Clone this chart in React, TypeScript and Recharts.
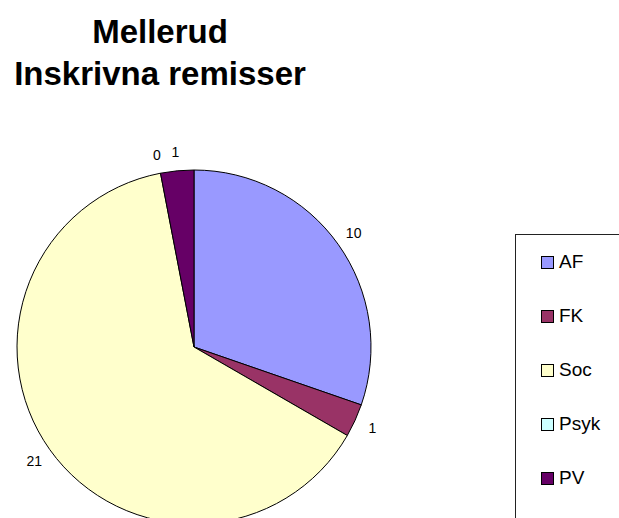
import React from "react";
import { PieChart, Pie, Cell, Legend } from "recharts";

const categories = ["AF", "FK", "Soc", "Psyk", "PV"];
const values = [10, 1, 21, 0, 1];
const colors = ["#9999FF", "#993366", "#FFFFCC", "#CCFFFF", "#660066"];
const titleLines = ["Mellerud", "Inskrivna remisser"];

const data = categories.map((name, i) => ({ name, value: values[i] }));

const RAD = Math.PI / 180;

const renderLabel = (props: any) => {
  const { cx, cy, midAngle, outerRadius, value } = props;
  const r = outerRadius + 19;
  const x = cx + r * Math.cos(-midAngle * RAD);
  const y = cy + r * Math.sin(-midAngle * RAD);
  return (
    <text
      x={x}
      y={y}
      textAnchor="middle"
      dominantBaseline="central"
      fontFamily="Liberation Sans, Arial, sans-serif"
      fontSize={14}
      fill="#000"
    >
      {value}
    </text>
  );
};

const renderLegend = () => (
  <div
    style={{
      position: "absolute",
      left: 515,
      top: 234,
      width: 140,
      height: 320,
      border: "1px solid #222",
      background: "#fff",
      boxSizing: "border-box",
      fontFamily: "Liberation Sans, Arial, sans-serif",
      fontSize: 19,
    }}
  >
    {categories.map((c, i) => (
      <div
        key={c}
        style={{
          position: "absolute",
          left: 25,
          top: 27 + i * 54 - 12,
          height: 24,
          display: "flex",
          alignItems: "center",
        }}
      >
        <span
          style={{
            display: "inline-block",
            width: 11,
            height: 11,
            background: colors[i],
            border: "1px solid #000",
            marginRight: 5,
          }}
        />
        <span>{c}</span>
      </div>
    ))}
  </div>
);

export default function App() {
  return (
    <div
      style={{
        position: "absolute",
        left: 0,
        top: 0,
        width: 619,
        height: 518,
        overflow: "hidden",
        background: "#fff",
      }}
    >
      <div
        style={{
          position: "absolute",
          left: 0,
          top: 11,
          width: 320,
          textAlign: "center",
          fontFamily: "Liberation Sans, Arial, sans-serif",
          fontWeight: "bold",
          fontSize: 33,
          lineHeight: "42px",
          color: "#000",
        }}
      >
        {titleLines.map((t) => (
          <div key={t}>{t}</div>
        ))}
      </div>
      <PieChart
        width={619}
        height={518}
        margin={{ top: 0, right: 0, bottom: 0, left: 0 }}
        style={{ position: "absolute", left: 0, top: 0 }}
      >
        <Pie
          data={data}
          dataKey="value"
          nameKey="name"
          cx={194}
          cy={347}
          outerRadius={177}
          startAngle={90}
          endAngle={-270}
          stroke="#000"
          strokeWidth={1}
          label={renderLabel}
          labelLine={false}
          isAnimationActive={false}
        >
          {data.map((d, i) => (
            <Cell key={d.name} fill={colors[i]} />
          ))}
        </Pie>
        <Legend content={renderLegend} wrapperStyle={{ position: "absolute", left: 0, top: 0, width: 0, height: 0 }} />
      </PieChart>
    </div>
  );
}
